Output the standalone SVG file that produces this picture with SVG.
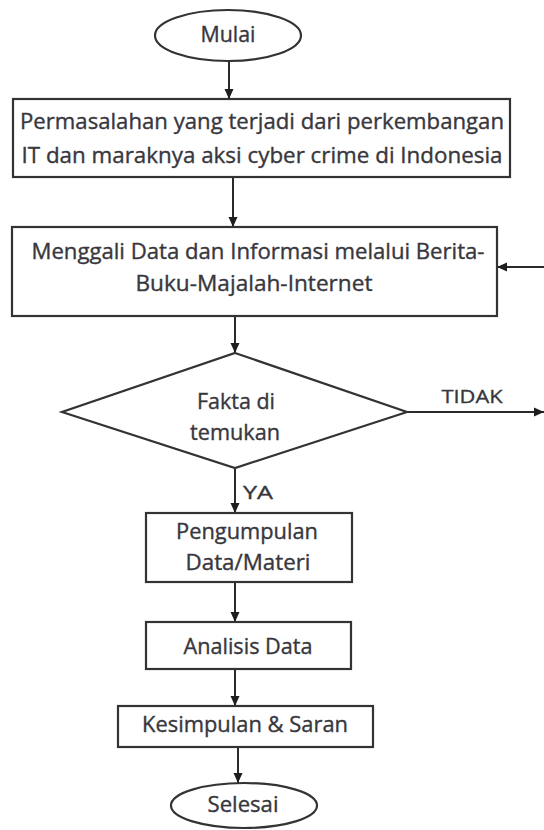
<svg xmlns="http://www.w3.org/2000/svg" width="544" height="830" viewBox="0 0 544 830">
  <style>
    .shape { fill: #ffffff; stroke: #333333; stroke-width: 2.2; }
    .link { fill: none; stroke: #2a2a2a; stroke-width: 2; }
    .label { font-family: "Open Sans", "Liberation Sans", sans-serif; font-size: 21px; fill: #38373d; stroke: #38373d; stroke-width: 0.35; text-anchor: middle; }
    .tag { font-family: "Open Sans", "Liberation Sans", sans-serif; font-size: 19px; fill: #38373d; stroke: #38373d; stroke-width: 0.35; }
  </style>
  <defs>
    <marker id="arrow" viewBox="0 0 10 10" refX="10" refY="5" markerWidth="10" markerHeight="10" markerUnits="userSpaceOnUse" orient="auto">
      <path d="M0,0.5 L10,5 L0,9.5 Z" fill="#1e1e1e"/>
    </marker>
  </defs>

  <rect width="544" height="830" fill="#ffffff"/>

  <!-- connectors -->
  <g id="connectors">
    <line class="link" x1="229" y1="61" x2="229" y2="99" marker-end="url(#arrow)"/>
    <line class="link" x1="233" y1="177" x2="233" y2="227" marker-end="url(#arrow)"/>
    <line class="link" x1="235" y1="316" x2="235" y2="353" marker-end="url(#arrow)"/>
    <line class="link" x1="235" y1="468" x2="235" y2="513" marker-end="url(#arrow)"/>
    <line class="link" x1="235" y1="582" x2="235" y2="622" marker-end="url(#arrow)"/>
    <line class="link" x1="235" y1="669" x2="235" y2="706" marker-end="url(#arrow)"/>
    <line class="link" x1="238" y1="747" x2="238" y2="783" marker-end="url(#arrow)"/>
    <line class="link" x1="407" y1="412" x2="544" y2="412" marker-end="url(#arrow)"/>
    <line class="link" x1="544" y1="267" x2="497" y2="267" marker-end="url(#arrow)"/>
    <text class="tag" x="472" y="403" text-anchor="middle" textLength="61" lengthAdjust="spacingAndGlyphs">TIDAK</text>
    <text class="tag" x="243" y="499" textLength="30" lengthAdjust="spacingAndGlyphs">YA</text>
  </g>

  <!-- start -->
  <g id="mulai">
    <ellipse class="shape" cx="228" cy="35.5" rx="73" ry="25.5"/>
    <text class="label" x="228" y="42" textLength="55" lengthAdjust="spacingAndGlyphs">Mulai</text>
  </g>

  <g id="permasalahan">
    <rect class="shape" x="13" y="99" width="497" height="78"/>
    <text class="label" x="262" y="129" textLength="484" lengthAdjust="spacingAndGlyphs">Permasalahan yang terjadi dari perkembangan</text>
    <text class="label" x="262" y="163" textLength="481" lengthAdjust="spacingAndGlyphs">IT dan maraknya aksi cyber crime di Indonesia</text>
  </g>

  <g id="menggali">
    <rect class="shape" x="12" y="227" width="485" height="89"/>
    <text class="label" x="258" y="259" textLength="453" lengthAdjust="spacingAndGlyphs">Menggali Data dan Informasi melalui Berita-</text>
    <text class="label" x="254" y="291" textLength="237" lengthAdjust="spacingAndGlyphs">Buku-Majalah-Internet</text>
  </g>

  <g id="fakta">
    <polygon class="shape" points="235,353 407,412 235,468 62,412"/>
    <text class="label" x="236" y="409" textLength="78" lengthAdjust="spacingAndGlyphs">Fakta di</text>
    <text class="label" x="235" y="440" textLength="90" lengthAdjust="spacingAndGlyphs">temukan</text>
  </g>

  <g id="pengumpulan">
    <rect class="shape" x="146" y="513" width="206" height="69"/>
    <text class="label" x="247" y="539" textLength="142" lengthAdjust="spacingAndGlyphs">Pengumpulan</text>
    <text class="label" x="248" y="570" textLength="125" lengthAdjust="spacingAndGlyphs">Data/Materi</text>
  </g>

  <g id="analisis">
    <rect class="shape" x="146" y="622" width="205" height="47"/>
    <text class="label" x="248" y="654" textLength="129" lengthAdjust="spacingAndGlyphs">Analisis Data</text>
  </g>

  <g id="kesimpulan">
    <rect class="shape" x="118" y="706" width="255" height="41"/>
    <text class="label" x="245" y="732" textLength="206" lengthAdjust="spacingAndGlyphs">Kesimpulan &amp; Saran</text>
  </g>

  <!-- end -->
  <g id="selesai">
    <ellipse class="shape" cx="244" cy="805.5" rx="73" ry="22.5"/>
    <text class="label" x="243" y="812" textLength="71" lengthAdjust="spacingAndGlyphs">Selesai</text>
  </g>
</svg>
